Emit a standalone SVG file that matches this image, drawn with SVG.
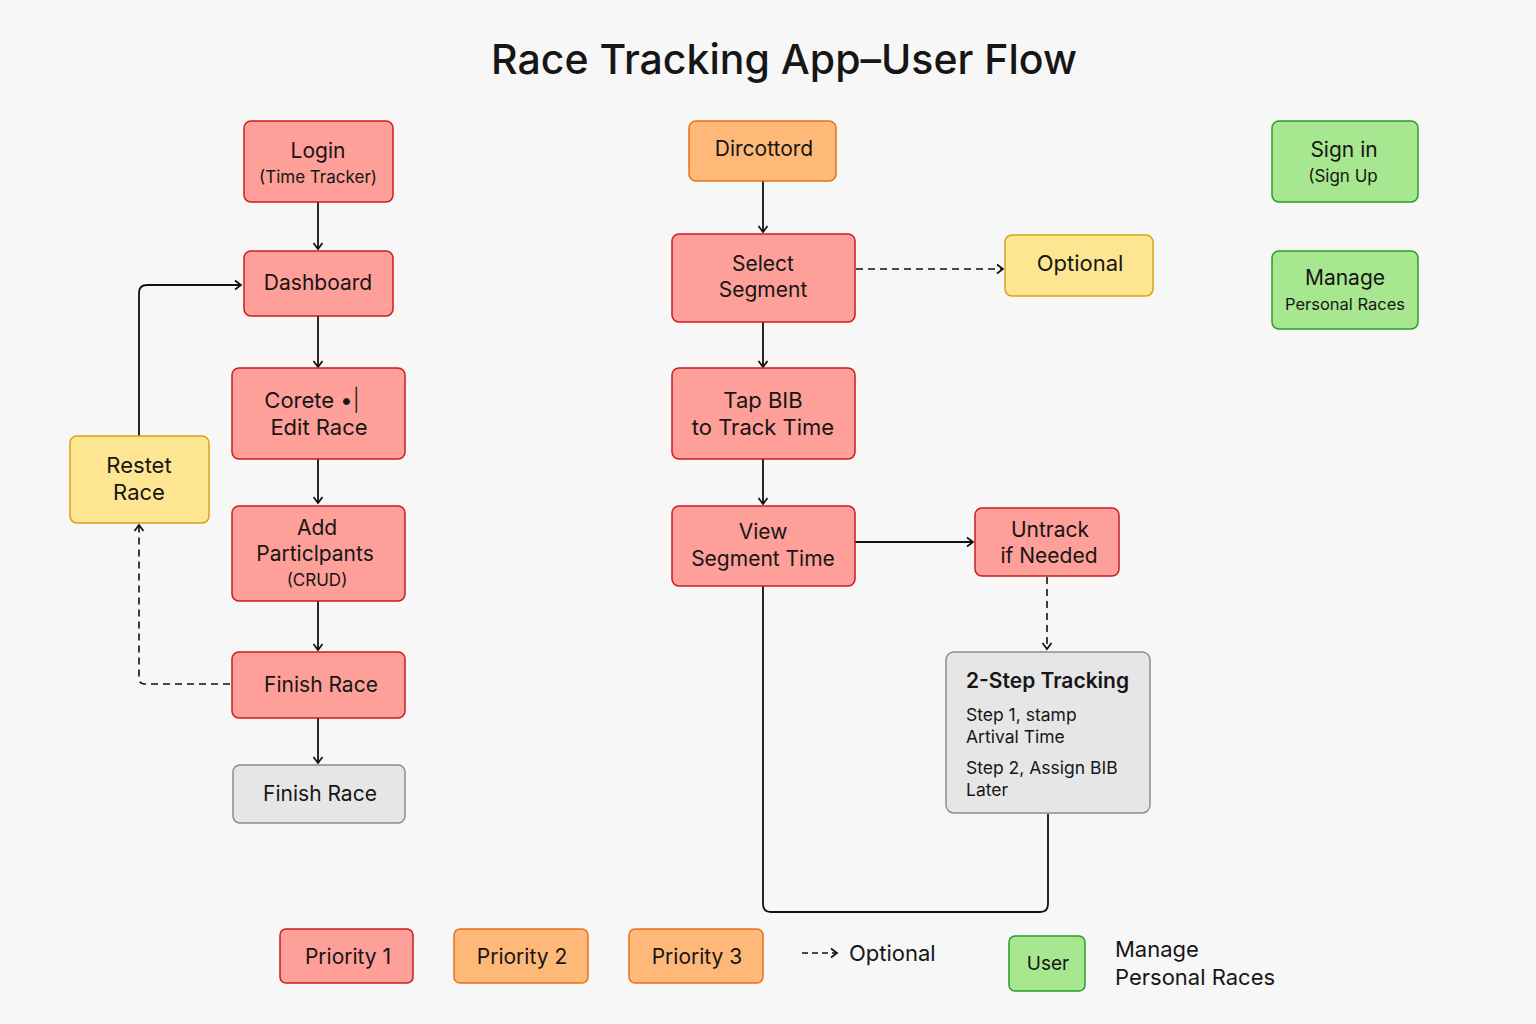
<svg xmlns="http://www.w3.org/2000/svg" width="1536" height="1024" viewBox="0 0 1536 1024">
<defs>
<marker id="arr" markerWidth="12" markerHeight="12" refX="9" refY="6" orient="auto" markerUnits="userSpaceOnUse">
<path d="M3,1.5 L9,6 L3,10.5" fill="none" stroke="#111" stroke-width="1.7"/>
</marker>
<style>
text{font-family:"Inter","Noto Sans","Liberation Sans",sans-serif;fill:#161616;}
.t{font-size:21px;text-anchor:middle;}
.s{font-size:17px;text-anchor:middle;}
.red{fill:#fe9f99;stroke:#cc1c1c;stroke-width:1.5;}
.org{fill:#feb878;stroke:#e2741a;stroke-width:1.5;}
.yel{fill:#fee592;stroke:#d8a216;stroke-width:1.5;}
.grn{fill:#a7e78f;stroke:#2f9a2a;stroke-width:1.5;}
.gry{fill:#e6e6e6;stroke:#8c8c8c;stroke-width:1.5;}
.c{fill:none;stroke:#111;stroke-width:1.8;}
.d{fill:none;stroke:#111;stroke-width:1.6;stroke-dasharray:7 5;}
</style>
</defs>
<rect width="1536" height="1024" fill="#f7f7f7"/>
<text x="784" y="74" style="font-size:41px;text-anchor:middle;font-weight:500">Race Tracking App–User Flow</text>

<g id="connectors">
<path class="c" d="M318 202 V249" marker-end="url(#arr)"/>
<path class="c" d="M318 316 V367" marker-end="url(#arr)"/>
<path class="c" d="M318 459 V503" marker-end="url(#arr)"/>
<path class="c" d="M318 601 V650" marker-end="url(#arr)"/>
<path class="c" d="M318 718 V763" marker-end="url(#arr)"/>
<path class="c" d="M139 436 V293 Q139 285 147 285 H241" marker-end="url(#arr)"/>
<path class="d" d="M230 684 H145 Q139 684 139 678 V525" marker-end="url(#arr)"/>
<path class="c" d="M763 181 V232" marker-end="url(#arr)"/>
<path class="d" d="M856 269 H1003" marker-end="url(#arr)"/>
<path class="c" d="M763 322 V367" marker-end="url(#arr)"/>
<path class="c" d="M763 459 V504" marker-end="url(#arr)"/>
<path class="c" d="M855 542 H973" marker-end="url(#arr)"/>
<path class="d" d="M1047 577 V649" marker-end="url(#arr)"/>
<path class="c" d="M763 586 V904 Q763 912 771 912 H1040 Q1048 912 1048 904 V814"/>
</g>

<g id="login"><rect class="red" x="244" y="121" width="149" height="81" rx="7"/>
<text class="t" x="318" y="158">Login</text><text class="s" x="318" y="183">(Time Tracker)</text></g>
<g id="dashboard"><rect class="red" x="244" y="251" width="149" height="65" rx="7"/>
<text class="t" x="318" y="290">Dashboard</text></g>
<g id="create"><rect class="red" x="232" y="368" width="173" height="91" rx="7"/>
<text class="t" x="312" y="408" style="font-size:22px">Corete •<tspan style="font-weight:300">|</tspan></text><text class="t" x="319" y="435" style="font-size:22px">Edit Race</text></g>
<g id="participants"><rect class="red" x="232" y="506" width="173" height="95" rx="7"/>
<text class="t" x="317" y="535">Add</text><text class="t" x="315" y="561">Particlpants</text><text class="s" x="317" y="586">(CRUD)</text></g>
<g id="finish1"><rect class="red" x="232" y="652" width="173" height="66" rx="7"/>
<text class="t" x="321" y="692">Finish Race</text></g>
<g id="finish2"><rect class="gry" x="233" y="765" width="172" height="58" rx="7"/>
<text class="t" x="320" y="801">Finish Race</text></g>
<g id="reset"><rect class="yel" x="70" y="436" width="139" height="87" rx="7"/>
<text class="t" x="139" y="473" style="font-size:22px">Restet</text><text class="t" x="139" y="500" style="font-size:22px">Race</text></g>

<g id="dircottord"><rect class="org" x="689" y="121" width="147" height="60" rx="7"/>
<text class="t" x="764" y="156">Dircottord</text></g>
<g id="select"><rect class="red" x="672" y="234" width="183" height="88" rx="7"/>
<text class="t" x="763" y="271">Select</text><text class="t" x="763" y="297">Segment</text></g>
<g id="optional"><rect class="yel" x="1005" y="235" width="148" height="61" rx="7"/>
<text class="t" x="1080" y="271" style="font-size:22px">Optional</text></g>
<g id="tapbib"><rect class="red" x="672" y="368" width="183" height="91" rx="7"/>
<text class="t" x="763" y="408" style="font-size:22px">Tap BIB</text><text class="t" x="763" y="435" style="font-size:22px">to Track Time</text></g>
<g id="view"><rect class="red" x="672" y="506" width="183" height="80" rx="7"/>
<text class="t" x="763" y="539">View</text><text class="t" x="763" y="566">Segment Time</text></g>
<g id="untrack"><rect class="red" x="975" y="508" width="144" height="68" rx="7"/>
<text class="t" x="1050" y="537">Untrack</text><text class="t" x="1049" y="563">if Needed</text></g>
<g id="twostep"><rect class="gry" x="946" y="652" width="204" height="161" rx="8"/>
<text x="966" y="688" style="font-size:21px;font-weight:600">2-Step Tracking</text>
<text x="966" y="721" style="font-size:17.5px">Step 1, stamp</text>
<text x="966" y="743" style="font-size:17.5px">Artival Time</text>
<text x="966" y="774" style="font-size:17.5px">Step 2, Assign BIB</text>
<text x="966" y="796" style="font-size:17.5px">Later</text></g>

<g id="signin"><rect class="grn" x="1272" y="121" width="146" height="81" rx="7"/>
<text class="t" x="1344" y="157">Sign in</text><text class="s" x="1343" y="182">(Sign Up</text></g>
<g id="manage"><rect class="grn" x="1272" y="251" width="146" height="78" rx="7"/>
<text class="t" x="1345" y="285">Manage</text><text x="1345" y="310" style="font-size:16.5px;text-anchor:middle">Personal Races</text></g>

<g id="legend">
<rect class="red" x="280" y="929" width="133" height="54" rx="6"/><text class="t" x="348" y="964">Priority 1</text>
<rect class="org" x="454" y="929" width="134" height="54" rx="6"/><text class="t" x="522" y="964">Priority 2</text>
<rect class="org" x="629" y="929" width="134" height="54" rx="6"/><text class="t" x="697" y="964">Priority 3</text>
<path class="d" d="M802 953 H837" style="stroke-dasharray:6 4" marker-end="url(#arr)"/>
<text x="849" y="961" style="font-size:22px">Optional</text>
<rect class="grn" x="1009" y="936" width="76" height="55" rx="6"/><text class="s" x="1048" y="970" style="font-size:19px">User</text>
<text x="1115" y="957" style="font-size:22px">Manage</text>
<text x="1115" y="985" style="font-size:22px">Personal Races</text>
</g>
</svg>
